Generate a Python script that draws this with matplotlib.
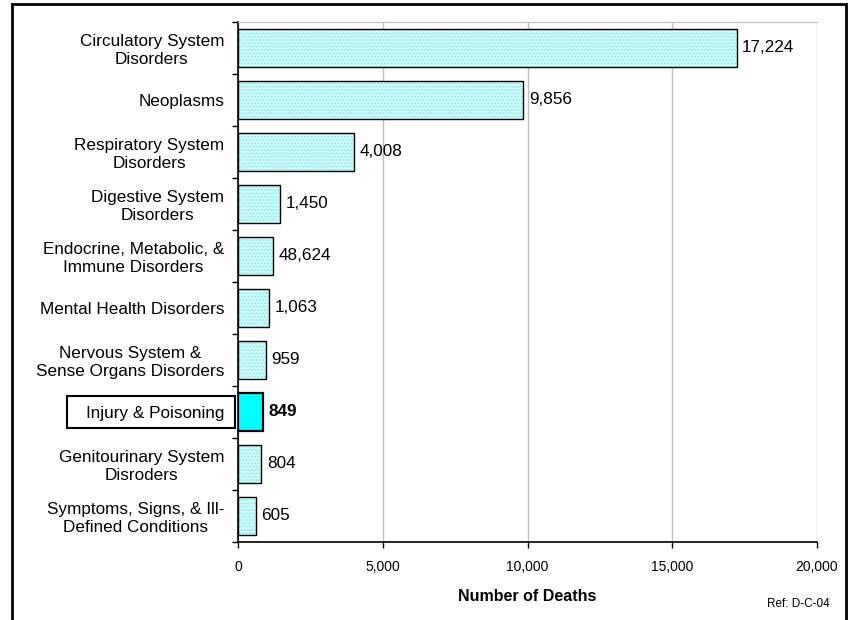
import numpy as np
import matplotlib.pyplot as plt
import matplotlib.transforms as mtransforms
from matplotlib.patches import Rectangle

plt.rcParams['font.family'] = ['Liberation Sans', 'DejaVu Sans']

categories = ['Circulatory System\nDisorders', 'Neoplasms', 'Respiratory System\nDisorders',
              'Digestive System\nDisorders', 'Endocrine, Metabolic, &\nImmune Disorders',
              'Mental Health Disorders', 'Nervous System &\nSense Organs Disorders',
              'Injury & Poisoning', 'Genitourinary System\nDisroders',
              'Symptoms, Signs, & Ill-\nDefined Conditions']
deaths = [17224, 9856, 4008, 1450, 1200, 1063, 959, 849, 804, 605]
value_labels = ['17,224', '9,856', '4,008', '1,450', '48,624', '1,063', '959', '849', '804', '605']
highlight = 7

fig = plt.figure(figsize=(8.53, 6.2), dpi=100)
ax = fig.add_axes([238 / 853, 1 - 542 / 620, (817 - 238) / 853, (542 - 22) / 620])

y = np.arange(len(categories))
h = 0.73

# dotted texture layer, then black outline
for i in y:
    if i == highlight:
        ax.barh(i, deaths[i], height=h, color='#00ffff', edgecolor='black', linewidth=1.6, zorder=3)
    else:
        ax.barh(i, deaths[i], height=h, color='#ccffff', edgecolor='#a0e0e0',
                hatch='.....', linewidth=0, zorder=2)
        ax.barh(i, deaths[i], height=h, facecolor='none', edgecolor='black', linewidth=1, zorder=3)

for i in y:
    ax.annotate(value_labels[i], (deaths[i], i), xytext=(4, 0), textcoords='offset points',
                va='center', ha='left', fontsize=12.3,
                fontweight='bold' if i == highlight else 'normal')

ax.set_xlim(0, 20000)
ax.set_ylim(len(categories) - 0.5, -0.5)
ax.set_xticks([0, 5000, 10000, 15000, 20000])
ax.set_xticklabels(['0', '5,000', '10,000', '15,000', '20,000'], fontsize=10)
ax.tick_params(axis='x', direction='out', length=4, width=1, pad=9)

ax.set_yticks(np.arange(len(categories) + 1) - 0.5)
ax.set_yticklabels([])
ax.set_yticks(y, minor=True)
ax.set_yticklabels(categories, minor=True, fontsize=12.3, multialignment='center')
ax.tick_params(axis='y', which='major', direction='out', length=4, width=1)
ax.tick_params(axis='y', which='minor', length=0, pad=10)

ax.grid(axis='x', color='#c0c0c0', linewidth=1, zorder=0)
ax.set_axisbelow(True)
ax.spines['right'].set_visible(False)
ax.spines['top'].set_color('#c0c0c0')
ax.spines['left'].set_linewidth(1.2)
ax.spines['bottom'].set_linewidth(1.2)

ax.set_xlabel('Number of Deaths', fontsize=11.5, fontweight='bold', labelpad=11)

# box around highlighted label
trans = mtransforms.blended_transform_factory(ax.transAxes, ax.transData)
ax.add_patch(Rectangle(((67 - 238) / 579, highlight - 0.31), (235 - 67) / 579, 0.62,
                       transform=trans, fill=False, edgecolor='black', linewidth=1.5,
                       clip_on=False))

fig.text(830 / 853, 1 - 604 / 620, 'Ref: D-C-04', fontsize=8.5, ha='right', va='center')

fig.patches.append(Rectangle((12 / 853, -0.05), (846 - 12) / 853, 1.05 - 4 / 620,
                             transform=fig.transFigure, fill=False, edgecolor='black',
                             linewidth=2))

fig.savefig('out.png', dpi=100)
